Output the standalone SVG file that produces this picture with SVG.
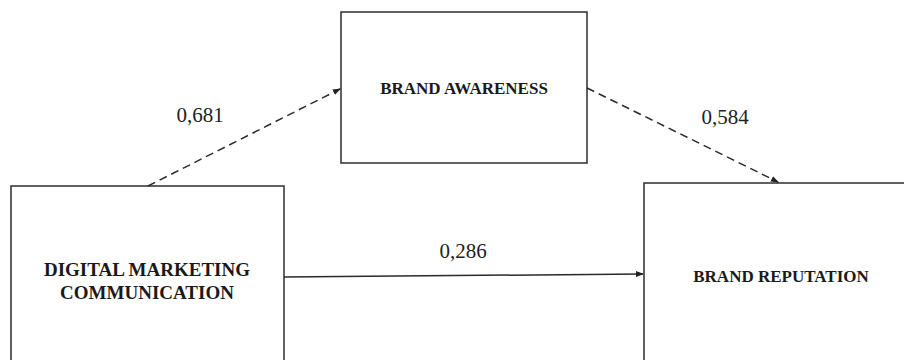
<svg xmlns="http://www.w3.org/2000/svg" width="904" height="360" viewBox="0 0 904 360">
<style>
.box{fill:#fff;stroke:#3a3a3a;stroke-width:1.6}
.lbl{font-family:"Liberation Serif","Times New Roman",serif;font-weight:bold;fill:#1a1a1a;text-anchor:middle}
.num{font-family:"Liberation Serif","Times New Roman",serif;font-size:21px;fill:#222;text-anchor:middle}
.dash{stroke:#2a2a2a;stroke-width:1.5;fill:none;stroke-dasharray:8,5}
.solid{stroke:#2a2a2a;stroke-width:1.5;fill:none}
</style>
<defs>
<marker id="ah" markerWidth="8" markerHeight="6" refX="7" refY="3" orient="auto" markerUnits="userSpaceOnUse">
<path d="M0,0 L8,3 L0,6 Z" fill="#222"/>
</marker>
</defs>
<rect width="904" height="360" fill="#fff"/>
<g id="dmc">
<rect class="box" x="11" y="186" width="273" height="190"/>
<text class="lbl" x="147" y="276" font-size="19">DIGITAL MARKETING</text>
<text class="lbl" x="147" y="299" font-size="19">COMMUNICATION</text>
</g>
<g id="awareness">
<rect class="box" x="341" y="12" width="246" height="151"/>
<text class="lbl" x="464" y="94" font-size="17">BRAND AWARENESS</text>
</g>
<g id="reputation">
<rect class="box" x="644" y="183" width="280" height="200"/>
<text class="lbl" x="781" y="282" font-size="17">BRAND REPUTATION</text>
</g>
<g id="connectors">
<line class="dash" x1="148" y1="186" x2="340" y2="89" marker-end="url(#ah)"/>
<line class="dash" x1="587" y1="88" x2="778" y2="182" marker-end="url(#ah)"/>
<line class="solid" x1="284" y1="277" x2="643" y2="274" marker-end="url(#ah)"/>
<text class="num" x="200" y="122">0,681</text>
<text class="num" x="725" y="124">0,584</text>
<text class="num" x="463" y="258">0,286</text>
</g>
</svg>
